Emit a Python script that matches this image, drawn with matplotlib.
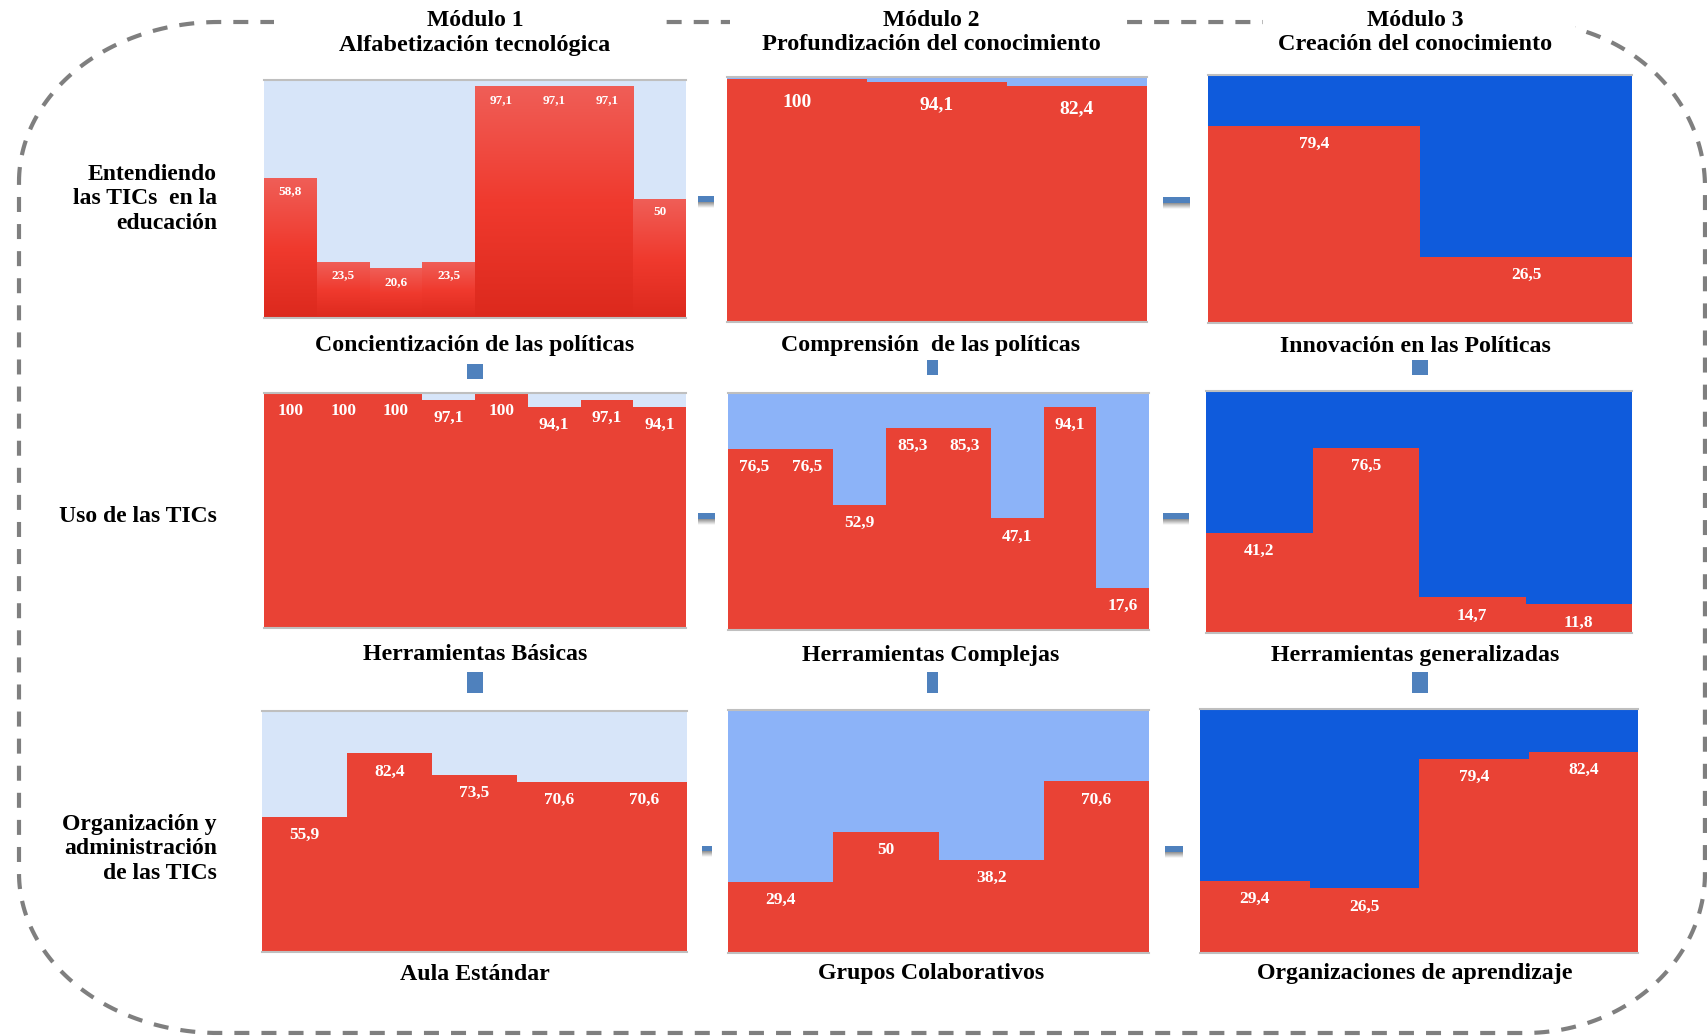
import numpy as np
import matplotlib
matplotlib.use('Agg')
import matplotlib.pyplot as plt
from matplotlib.colors import LinearSegmentedColormap
from matplotlib.patches import Rectangle

plt.rcParams['font.family'] = ['Liberation Serif', 'DejaVu Serif']

# Porcentajes por estándar (cada barra = un indicador)
concientizacion = [58.8, 23.5, 20.6, 23.5, 97.1, 97.1, 97.1, 50]
comprension = [100, 94.1, 82.4]
innovacion = [79.4, 26.5]
basicas = [100, 100, 100, 97.1, 100, 94.1, 97.1, 94.1]
complejas = [76.5, 76.5, 52.9, 85.3, 85.3, 47.1, 94.1, 17.6]
generalizadas = [41.2, 76.5, 14.7, 11.8]
aula = [55.9, 82.4, 73.5, 70.6, 70.6]
grupos = [29.4, 50, 38.2, 70.6]
organizaciones = [29.4, 26.5, 79.4, 82.4]

modulos = ['Módulo 1', 'Módulo 2', 'Módulo 3']
enfoques = ['Alfabetización tecnológica', 'Profundización del conocimiento',
            'Creación del conocimiento']
filas = ['Entendiendo\nlas TICs  en la\neducación', 'Uso de las TICs',
         'Organización y\nadministración\nde las TICs']
titulos = [['Concientización de las políticas', 'Comprensión  de las políticas',
            'Innovación en las Políticas'],
           ['Herramientas Básicas', 'Herramientas Complejas', 'Herramientas generalizadas'],
           ['Aula Estándar', 'Grupos Colaborativos', 'Organizaciones de aprendizaje']]
datos = [[concientizacion, comprension, innovacion],
         [basicas, complejas, generalizadas],
         [aula, grupos, organizaciones]]

W, H = 1707, 1036
RED = '#E94235'
FONDOS = ['#D7E5F9', '#8CB3F8', '#0F5BDC']
AZUL = '#4F81BD'

fig = plt.figure(figsize=(W / 100, H / 100), dpi=100)

# capa de fondo en pixeles para borde, textos y conectores
deco = fig.add_axes([0, 0, 1, 1], zorder=0)
deco.set_xlim(0, W)
deco.set_ylim(H, 0)
deco.axis('off')


def arc(cx, cy, rx, ry, t0, t1):
    t = np.linspace(t0, t1, 60)
    return cx + rx * np.cos(t), cy + ry * np.sin(t)


# borde redondeado punteado
L, R, T, B = 19, 1705, 22, 1033
xs, ys = [], []
for cx, cy, rx, ry, t0, t1 in [(L + 200, T + 160, 200, 160, np.pi, 1.5 * np.pi),
                               (R - 180, T + 165, 180, 165, 1.5 * np.pi, 2 * np.pi),
                               (R - 180, B - 160, 180, 160, 0, 0.5 * np.pi),
                               (L + 200, B - 160, 200, 160, 0.5 * np.pi, np.pi)]:
    ax_, ay_ = arc(cx, cy, rx, ry, t0, t1)
    xs.extend(ax_)
    ys.extend(ay_)
xs.append(xs[0])
ys.append(ys[0])
deco.plot(xs, ys, color='#7F7F7F', lw=3, dashes=(3.6, 2.9), solid_capstyle='butt',
          dash_capstyle='butt', zorder=1)

# huecos blancos del borde detras de los titulos de modulo
for x0, x1 in [(274, 659), (730, 1127), (1263, 1575)]:
    deco.add_patch(Rectangle((x0, 6), x1 - x0, 32, facecolor='white', edgecolor='none', zorder=2))

col_cx = [475, 931, 1415]
for cx, m, e in zip(col_cx, modulos, enfoques):
    deco.text(cx, 21, m, ha='center', va='center', fontsize=17, fontweight='bold', zorder=3)
    deco.text(cx, 45, e, ha='center', va='center', fontsize=17.5, fontweight='bold', zorder=3)

for y, f in zip([199, 516, 849], filas):
    deco.text(217, y, f, ha='right', va='center', fontsize=17, fontweight='bold',
              linespacing=1.22, multialignment='right', zorder=3)

cap_y = [346, 655, 974]
for r in range(3):
    for c in range(3):
        deco.text(col_cx[c], cap_y[r], titulos[r][c], ha='center', va='center',
                  fontsize=17.2, fontweight='bold', zorder=3)

# conectores entre paneles
horiz = [(698, 714, 196, 202), (1163, 1190, 197, 203), (698, 715, 513, 519),
         (1163, 1189, 513, 519), (702, 712, 846, 851), (1165, 1183, 846, 852)]
vert = [(467, 483, 364, 379), (927, 938, 360, 375), (1412, 1428, 360, 375),
        (467, 483, 672, 693), (927, 938, 672, 693), (1412, 1428, 672, 693)]
sombra = LinearSegmentedColormap.from_list('sombra', ['#8E8E8E', '#FFFFFF'])
for x0, x1, y0, y1 in horiz:
    deco.add_patch(Rectangle((x0, y0), x1 - x0, y1 - y0, facecolor=AZUL, edgecolor='none', zorder=3))
    deco.imshow(np.linspace(0, 1, 32).reshape(-1, 1), cmap=sombra, aspect='auto',
                extent=(x0, x1, y1 + 6, y1), zorder=2)
for x0, x1, y0, y1 in vert:
    deco.add_patch(Rectangle((x0, y0), x1 - x0, y1 - y0, facecolor=AZUL, edgecolor='none', zorder=3))
deco.set_xlim(0, W)
deco.set_ylim(H, 0)

# cajas de los paneles en pixeles (x0, y0, x1, y1)
cajas = [[(264, 80, 686, 318), (727, 77, 1147, 322), (1208, 75, 1632, 323)],
         [(264, 393, 686, 628), (728, 393, 1149, 630), (1206, 391, 1632, 633)],
         [(262, 711, 687, 952), (728, 710, 1149, 953), (1200, 709, 1638, 953)]]

grad = LinearSegmentedColormap.from_list('rojo', ['#DC291D', '#F03A2E', '#EF5E57'])


def etiqueta(v):
    return f'{v:g}'.replace('.', ',')


for r in range(3):
    for c in range(3):
        x0, y0, x1, y1 = cajas[r][c]
        ax = fig.add_axes([x0 / W, 1 - y1 / H, (x1 - x0) / W, (y1 - y0) / H], zorder=2)
        vals = datos[r][c]
        n = len(vals)
        ax.set_facecolor(FONDOS[c])
        ylim = (0, 100)
        fs, off = 12.5, 13
        if (r, c) == (0, 0):
            fs, off = 9.5, 9.4
        if (r, c) == (0, 1):
            # eje con minimo muy por debajo de cero: las barras casi llenan el panel
            ylim = (-579, 107)
            fs, off = 14, 16.5
        base = ylim[0]
        ax.bar(np.arange(n), [v - base for v in vals], bottom=base, width=1, align='edge',
               color=RED, edgecolor='none', zorder=1)
        if (r, c) == (0, 0):
            for i, v in enumerate(vals):
                ax.imshow(np.linspace(0, 1, 256).reshape(-1, 1), cmap=grad, origin='lower',
                          aspect='auto', extent=(i, i + 1, 0, v), zorder=2)
        for i, v in enumerate(vals):
            ax.annotate(etiqueta(v), (i + 0.5, v), xytext=(0, -off), textcoords='offset points',
                        ha='center', va='center', color='white', fontsize=fs,
                        fontweight='bold', zorder=3)
        ax.set_xlim(0, n)
        ax.set_ylim(*ylim)
        ax.set_xticks([])
        ax.set_yticks([])
        for s in ['left', 'right']:
            ax.spines[s].set_visible(False)
        for s in ['top', 'bottom']:
            ax.spines[s].set_color('#BFBFBF')
            ax.spines[s].set_linewidth(1.5)

fig.savefig('out.png', dpi=100, facecolor='white')
